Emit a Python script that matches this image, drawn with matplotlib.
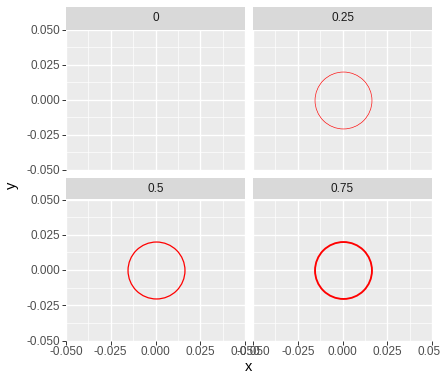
import numpy as np
import matplotlib
matplotlib.use("Agg")
import matplotlib.pyplot as plt

# facet values (point stroke) and point positions
strokes = [0, 0.25, 0.5, 0.75]
facet_labels = ["0", "0.25", "0.5", "0.75"]
px = [0.0]
py = [0.0]
ticks = [-0.050, -0.025, 0.000, 0.025, 0.050]
tick_labels = ["-0.050", "-0.025", "0.000", "0.025", "0.050"]

plt.rcParams['font.family'] = ['Liberation Sans', 'DejaVu Sans']

W, H = 440, 382
fig = plt.figure(figsize=(W / 100, H / 100), dpi=100)

def box(x0, y0, x1, y1):
    # pixel box -> figure fraction rect
    return [x0 / W, 1 - y1 / H, (x1 - x0) / W, (y1 - y0) / H]

cols = [(66, 245), (253, 432)]
rows = [(7, 29.5, 170), (178, 199.5, 340.5)]
minor = [-0.0375, -0.0125, 0.0125, 0.0375]

for i, s in enumerate(strokes):
    r, c = divmod(i, 2)
    x0, x1 = cols[c]
    st, p0, p1 = rows[r]

    # strip
    sax = fig.add_axes(box(x0, st, x1, p0))
    sax.set_facecolor('#D9D9D9')
    sax.set_xticks([]); sax.set_yticks([])
    for sp in sax.spines.values():
        sp.set_visible(False)
    sax.text(0.5, 0.5, facet_labels[i], ha='center', va='center',
             fontsize=8.45, color='#1A1A1A', transform=sax.transAxes)

    # panel
    ax = fig.add_axes(box(x0, p0, x1, p1))
    ax.set_facecolor('#EBEBEB')
    ax.set_xlim(-0.05, 0.05)
    ax.set_ylim(-0.05, 0.05)
    for sp in ax.spines.values():
        sp.set_visible(False)
    for m in minor:
        ax.axvline(m, color='white', lw=0.5, zorder=0.5)
        ax.axhline(m, color='white', lw=0.5, zorder=0.5)
    for t in ticks:
        ax.axvline(t, color='white', lw=1.0, zorder=0.6)
        ax.axhline(t, color='white', lw=1.0, zorder=0.6)
    ax.set_axisbelow(True)

    if s > 0:
        ax.plot(px, py, linestyle='none', marker='o', markersize=41,
                markerfacecolor='none', markeredgecolor='red',
                markeredgewidth=s * 1.8, zorder=3, clip_on=False)

    ax.set_xticks(ticks)
    ax.set_yticks(ticks)
    ax.tick_params(length=2.6, width=0.7, color='#333333',
                   labelsize=8.45, labelcolor='#4D4D4D', pad=1.5)
    if r == 1:
        ax.set_xticklabels(tick_labels)
    else:
        ax.tick_params(axis='x', length=0)
        ax.set_xticklabels([])
    if c == 0:
        ax.set_yticklabels(tick_labels)
    else:
        ax.tick_params(axis='y', length=0)
        ax.set_yticklabels([])

fig.text(249 / W, 1 - 367 / H, 'x', ha='center', va='center', fontsize=10.5, color='black')
fig.text(12 / W, 1 - 185 / H, 'y', ha='center', va='center', fontsize=10.5,
         rotation=90, color='black')

fig.savefig('out.png', dpi=100)
